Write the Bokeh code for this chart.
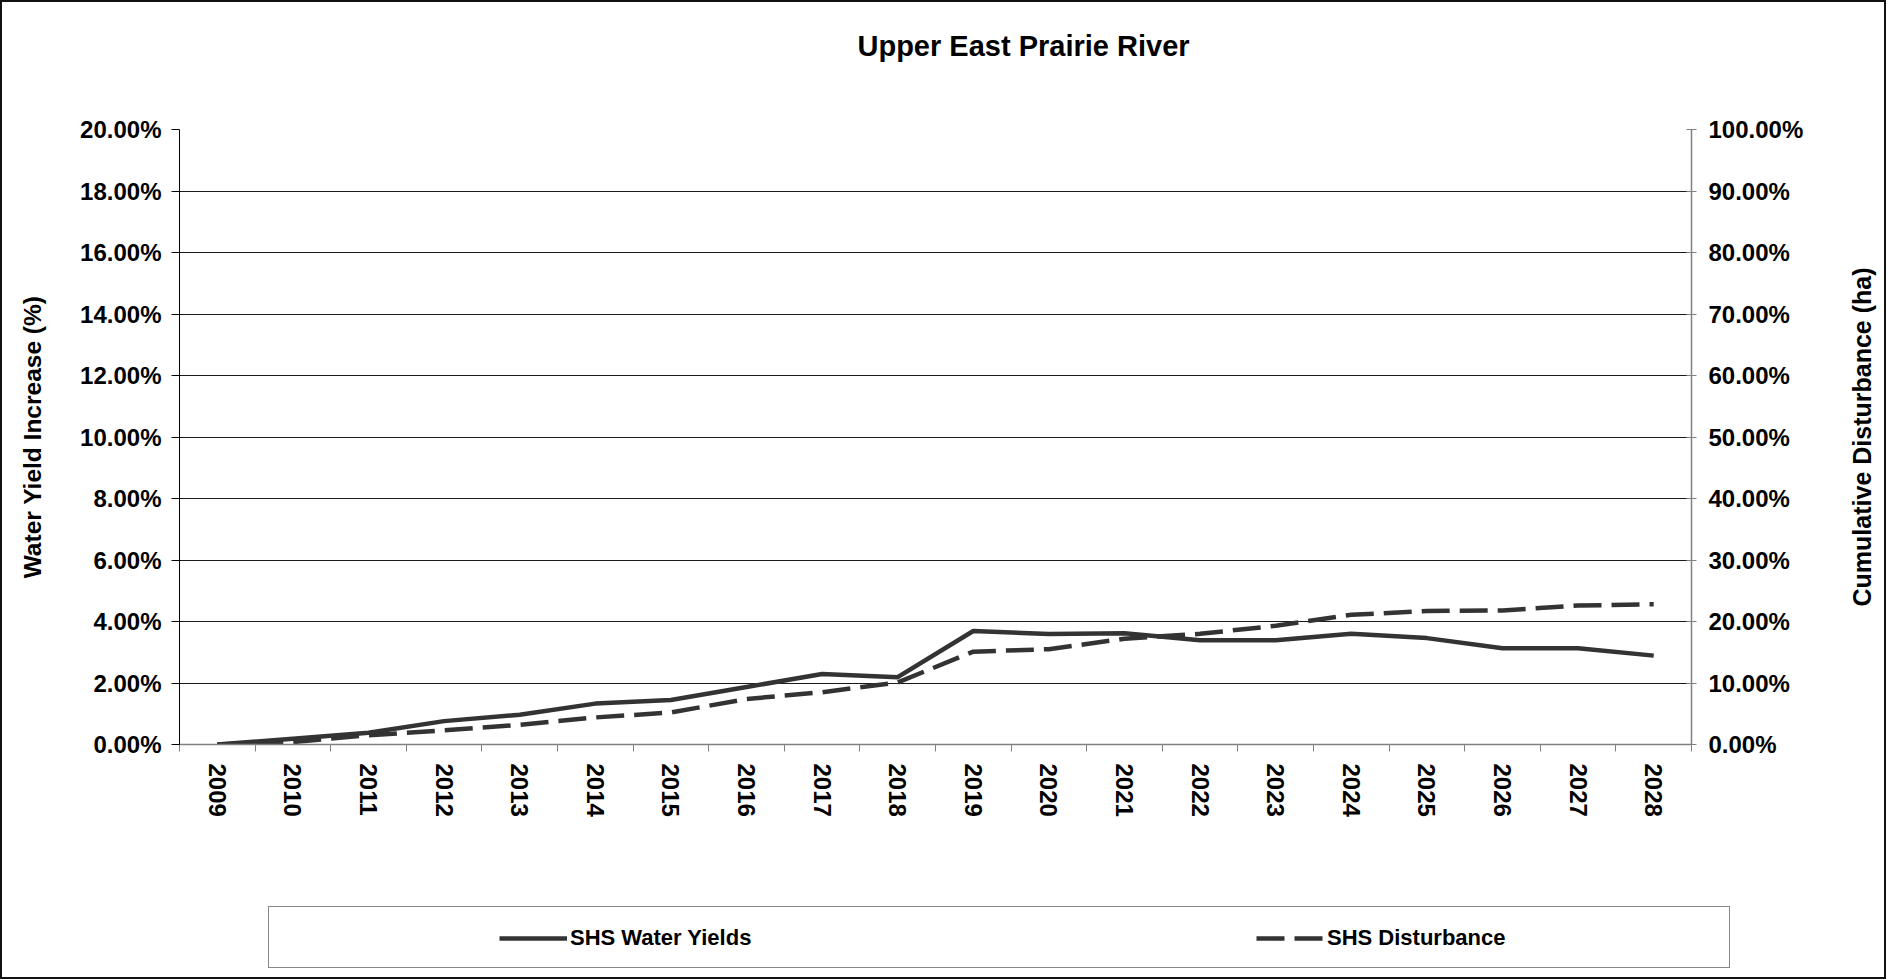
import math
from bokeh.plotting import figure
from bokeh.layouts import column, row
from bokeh.models import (Range1d, LinearAxis, FixedTicker, PrintfTickFormatter,
                          CustomJSTickFormatter, Legend, LegendItem, Title, Grid)
from bokeh.embed import file_html
from bokeh.resources import INLINE

# ---- data ----
years = [str(y) for y in range(2009, 2029)]
water_yields = [0.00, 0.19, 0.38, 0.76, 0.97, 1.33, 1.45, 1.87, 2.29, 2.19,
                3.69, 3.59, 3.62, 3.39, 3.39, 3.60, 3.46, 3.13, 3.13, 2.89]
disturbance = [0.0, 0.4, 1.5, 2.3, 3.2, 4.4, 5.2, 7.4, 8.5, 10.1,
               15.1, 15.5, 17.2, 18.0, 19.3, 21.1, 21.7, 21.8, 22.6, 22.8]
left_ticks = [0, 2, 4, 6, 8, 10, 12, 14, 16, 18, 20]
right_ticks = [0, 10, 20, 30, 40, 50, 60, 70, 80, 90, 100]
title_text = "Upper East Prairie River"
left_title = "Water Yield Increase (%)"
right_title = "Cumulative Disturbance (ha)"
series_names = ["SHS Water Yields", "SHS Disturbance"]

FONT = "Liberation Sans"
W_TOTAL = 1886
W_MAIN = 1820
W_RT = W_TOTAL - W_MAIN
H_MAIN, H_LEG = 880, 99
FRAME_L, FRAME_R, FRAME_T, FRAME_B = 179, 1691, 129, 744
n = len(years)
xs = [i + 0.5 for i in range(n)]
LINE_COLOR = "#333333"
SOLID = dict(line_color=LINE_COLOR, line_width=4.5)
DASHED = dict(line_color=LINE_COLOR, line_width=4.5, line_dash="28 10")


def no_frame_align(fig):
    if "frame_align" in fig.properties():
        fig.frame_align = False


p = figure(width=W_MAIN, height=H_MAIN, output_backend="svg", toolbar_location=None,
           x_range=Range1d(0, n), y_range=Range1d(0, left_ticks[-1]),
           x_axis_type=None, y_axis_type=None,
           min_border_left=FRAME_L, min_border_right=W_MAIN - FRAME_R,
           min_border_top=FRAME_T, min_border_bottom=H_MAIN - FRAME_B)
p.title_location = None
p.outline_line_color = None
p.background_fill_color = "white"
p.border_fill_color = "white"
p.extra_y_ranges = {"dist": Range1d(0, right_ticks[-1])}
no_frame_align(p)

# spacer title (closest to the frame) then the real title
p.add_layout(Title(text=" ", text_font_size="2px", standoff=64), "above")
p.add_layout(Title(text=title_text, align="left", offset=678, standoff=0,
                   text_font=FONT, text_font_style="bold", text_font_size="29px",
                   text_color="black"), "above")

# x axis: labels at category centres, ticks at category boundaries
xaxis = LinearAxis(
    ticker=FixedTicker(ticks=xs, minor_ticks=list(range(n + 1))),
    formatter=CustomJSTickFormatter(args=dict(labels=years),
                                    code="return labels[Math.round(tick - 0.5)];"),
    major_label_orientation="vertical",
    major_tick_out=0, major_tick_in=0, minor_tick_out=7, minor_tick_in=0,
    minor_tick_line_color="#808080", axis_line_color="#808080", axis_line_width=1.5,
    major_label_text_font=FONT, major_label_text_font_style="bold",
    major_label_text_font_size="24px", major_label_text_color="black",
    major_label_standoff=12)
p.add_layout(xaxis, "below")

yaxis = LinearAxis(
    ticker=FixedTicker(ticks=left_ticks), formatter=PrintfTickFormatter(format="%.2f%%"),
    axis_label=left_title, axis_label_standoff=31,
    axis_label_text_font=FONT, axis_label_text_font_style="bold",
    axis_label_text_font_size="24.5px", axis_label_text_color="black",
    major_tick_out=8, major_tick_in=0, minor_tick_out=0, minor_tick_in=0,
    major_tick_line_color="black", axis_line_color="black", axis_line_width=1,
    major_label_text_font=FONT, major_label_text_font_style="bold",
    major_label_text_font_size="24px", major_label_text_color="black",
    major_label_standoff=10)
p.add_layout(yaxis, "left")

raxis = LinearAxis(
    y_range_name="dist",
    ticker=FixedTicker(ticks=right_ticks), formatter=PrintfTickFormatter(format="%.2f%%"),
    major_tick_out=5, major_tick_in=5, minor_tick_out=0, minor_tick_in=0,
    major_tick_line_color="#808080", axis_line_color="#808080", axis_line_width=1.5,
    major_label_text_font=FONT, major_label_text_font_style="bold",
    major_label_text_font_size="24px", major_label_text_color="black",
    major_label_standoff=12)
p.add_layout(raxis, "right")

p.add_layout(Grid(dimension=1, ticker=FixedTicker(ticks=left_ticks),
                  grid_line_color="#1a1a1a", grid_line_width=1))

p.line(xs, water_yields, **SOLID)
p.line(xs, disturbance, y_range_name="dist", **DASHED)

# ---- narrow strip on the right carrying the right-hand axis title ----
pt = figure(width=W_RT, height=H_MAIN, output_backend="svg", toolbar_location=None,
            x_range=Range1d(0, 1), y_range=Range1d(0, 1),
            x_axis_type=None, y_axis_type=None,
            min_border_left=60, min_border_right=0,
            min_border_top=FRAME_T, min_border_bottom=H_MAIN - FRAME_B)
pt.title_location = None
pt.outline_line_color = None
pt.background_fill_color = "white"
pt.border_fill_color = "white"
no_frame_align(pt)
tax = LinearAxis(
    ticker=FixedTicker(ticks=[]), axis_label=right_title, axis_label_standoff=5,
    axis_label_text_font=FONT, axis_label_text_font_style="bold",
    axis_label_text_font_size="25px", axis_label_text_color="black",
    axis_line_color=None, major_tick_line_color=None, minor_tick_line_color=None,
    major_tick_out=0, major_tick_in=0, minor_tick_out=0, minor_tick_in=0,
    major_label_standoff=0)
pt.add_layout(tax, "left")

# ---- legend strip below the chart ----
pl = figure(width=W_TOTAL, height=H_LEG, output_backend="svg", toolbar_location=None,
            x_range=Range1d(0, 1), y_range=Range1d(0, 1),
            x_axis_type=None, y_axis_type=None, min_border=0)
pl.title_location = None
pl.outline_line_color = None
pl.background_fill_color = "white"
pl.border_fill_color = "white"
no_frame_align(pl)
# sample-only renderers for the legend keys (a single point out of view draws nothing)
k1 = pl.line(x=[0], y=[-1], **SOLID)
k2 = pl.line(x=[0], y=[-1], **DASHED)

# legend box (location = bottom-left corner, measured up from the strip bottom)
legA = Legend(items=[LegendItem(label=" ", renderers=[k1])], location=(268, 11),
              padding=0, margin=0, glyph_width=0, glyph_height=60,
              label_width=1460, label_height=60, label_standoff=0,
              border_line_color="#111111", border_line_width=1.5,
              background_fill_color="white", background_fill_alpha=1)
pl.add_layout(legA)

legB = Legend(items=[LegendItem(label=series_names[0], renderers=[k1]),
                     LegendItem(label=series_names[1], renderers=[k2])],
              orientation="horizontal", location=(499, 28),
              padding=0, margin=0, spacing=496,
              glyph_width=68, glyph_height=26, label_height=26, label_width=190,
              label_standoff=3, border_line_color=None, background_fill_alpha=0,
              label_text_font=FONT, label_text_font_style="bold",
              label_text_font_size="22px", label_text_color="black")
pl.add_layout(legB)

border_css = (":host::after { content: ''; position: absolute; left: 0; top: 0; "
              "right: 0; bottom: 0; border: 2px solid #111111; "
              "pointer-events: none; z-index: 100; }")
layout = column(row(p, pt, spacing=0), pl, spacing=0,
                styles={"outline": "2px solid #111111", "outline-offset": "-2px"},
                stylesheets=[border_css])

open("out.html", "w").write(file_html(layout, INLINE))
